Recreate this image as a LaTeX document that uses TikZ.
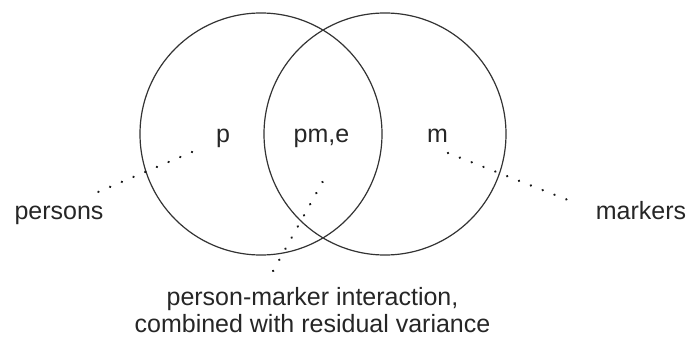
\documentclass[tikz,border=0pt]{standalone}
\usepackage{fontspec}
\setmainfont{Liberation Sans}
\usepackage{tikz}
\usetikzlibrary{positioning}

\begin{document}
\begin{tikzpicture}[x=1pt, y=1pt,
            ring/.style={circle, draw=black!80, line width=1.2pt, minimum size=242pt, inner sep=0pt},
            lbl/.style={anchor=base, inner sep=0pt, text=black!85, font=\fontsize{25}{30}\selectfont},
            dots/.style={draw=black!90, line width=2.6pt, line cap=round, dash pattern=on 0.01pt off 12.7pt}
        ]
            \useasboundingbox (0,0) rectangle (688,338);
            \node[ring](cp) at (261,204) {};
            \node[ring](cm) at (385,204) {};

            \node[lbl](p) at (223,196) {p};
            \node[lbl](pme) at (321.5,196) {pm,e};
            \node[lbl](m) at (437.5,196) {m};
            \node[lbl](persons) at (59,119) {persons};
            \node[lbl](markers) at (641,119) {markers};
            \node[lbl, align=center](inter) at (312.5,6) {person-marker interaction,\\[-3pt]combined with residual variance};

            \coordinate (pfrom) at (192,186);
            \coordinate (pto) at (98,146);
            \coordinate (mfrom) at (448,185);
            \coordinate (mto) at (568,138);
            \coordinate (ifrom) at (322.5,156);
            \coordinate (ito) at (272,65);

            \draw[dots] (pfrom) -- (pto);
            \draw[dots] (mfrom) -- (mto);
            \draw[dots] (ifrom) -- (ito);
        \end{tikzpicture}
\end{document}
